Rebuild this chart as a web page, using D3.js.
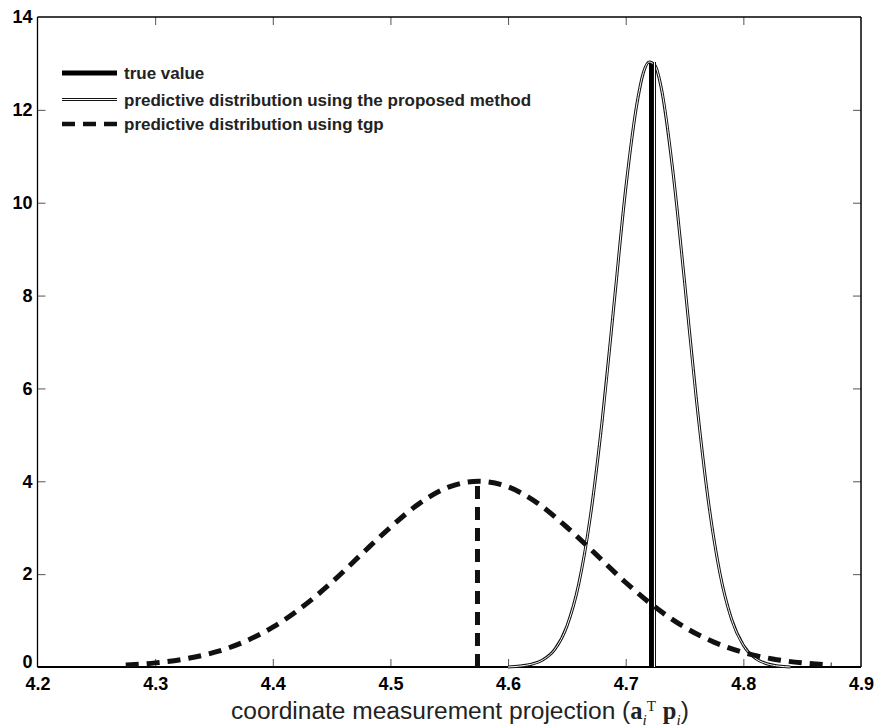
<!DOCTYPE html>
<html>
<head>
<meta charset="utf-8">
<script src="https://cdn.jsdelivr.net/npm/d3@7"></script>
<style>
  html, body { margin: 0; padding: 0; background: #fff; }
  svg { display: block; }
</style>
</head>
<body>
<svg id="chart" width="875" height="728"></svg>
<script>
// ---------- data ----------
const xTicks = [4.2, 4.3, 4.4, 4.5, 4.6, 4.7, 4.8, 4.9];
const yTicks = [0, 2, 4, 6, 8, 10, 12, 14];

const trueValue = 4.7215;
const trueHeight = 13.03;

const proposedMean = 4.7238;
const proposedPeak = 13.03;
const proposedX = [4.600, 4.610, 4.620, 4.630, 4.640, 4.650, 4.660, 4.670, 4.680, 4.690,
                   4.700, 4.710, 4.715, 4.720, 4.725, 4.730, 4.740, 4.750, 4.760, 4.770,
                   4.780, 4.790, 4.800, 4.810, 4.820, 4.830, 4.840];
const proposedY = [0.00, 0.02, 0.06, 0.16, 0.39, 0.88, 1.78, 3.25, 5.31, 7.80,
                   10.30, 12.20, 12.80, 13.03, 12.95, 12.50, 10.70, 8.30, 5.78, 3.62,
                   2.03, 1.03, 0.47, 0.19, 0.07, 0.02, 0.00];

const tgpMean = 4.574;
const tgpPeak = 4.0;
const tgpX = [4.275, 4.300, 4.325, 4.350, 4.375, 4.400, 4.425, 4.450, 4.475, 4.500,
              4.525, 4.550, 4.575, 4.600, 4.625, 4.650, 4.675, 4.700, 4.725, 4.750,
              4.775, 4.800, 4.825, 4.850, 4.875];
const tgpY = [0.043, 0.089, 0.172, 0.313, 0.535, 0.857, 1.29, 1.82, 2.42, 3.01,
              3.53, 3.88, 4.00, 3.88, 3.53, 3.01, 2.42, 1.82, 1.29, 0.857,
              0.535, 0.313, 0.172, 0.089, 0.043];

const legendLabels = ["true value",
                      "predictive distribution using the proposed method",
                      "predictive distribution using tgp"];

// ---------- layout ----------
const svg = d3.select("#chart");
const L = 37.5, R = 861, T = 17, B = 667;
const x = d3.scaleLinear().domain([4.2, 4.9]).range([L, R]);
const y = d3.scaleLinear().domain([0, 14]).range([B, T]);

const tickFont = "'Liberation Sans', Arial, sans-serif";

function styleAxis(g, showLabels) {
  g.select(".domain").remove();
  g.selectAll(".tick line").attr("stroke", "#555").attr("stroke-width", 1);
  g.selectAll(".tick text")
    .attr("fill", "#000")
    .style("font-family", tickFont)
    .style("font-weight", "bold")
    .style("font-size", "18px")
    .style("display", showLabels ? null : "none");
}
const inner = xTicks.slice(1, -1);
const innerY = yTicks.slice(1, -1);

svg.append("g").attr("transform", `translate(0,${B})`)
  .call(d3.axisBottom(x).tickValues(xTicks).tickSize(-8).tickPadding(10).tickFormat(d3.format(".1f")))
  .call(g => styleAxis(g, true))
  .call(g => g.selectAll(".tick line").filter(d => d === 4.2 || d === 4.9).remove());

svg.append("g").attr("transform", `translate(0,${T})`)
  .call(d3.axisTop(x).tickValues(inner).tickSize(-8))
  .call(g => styleAxis(g, false));

svg.append("g").attr("transform", `translate(${L},0)`)
  .call(d3.axisLeft(y).tickValues(yTicks).tickSize(-8).tickPadding(5).tickFormat(d3.format("d")))
  .call(g => styleAxis(g, true))
  .call(g => g.selectAll(".tick line").filter(d => d === 0 || d === 14).remove())
  .call(g => g.selectAll(".tick text").filter(d => d === 0).attr("dy", "0.05em"));

svg.append("g").attr("transform", `translate(${R},0)`)
  .call(d3.axisRight(y).tickValues(innerY).tickSize(-8))
  .call(g => styleAxis(g, false));

// box
svg.append("line").attr("x1", L).attr("x2", R).attr("y1", T).attr("y2", T).attr("stroke", "#000").attr("stroke-width", 1.3);
svg.append("line").attr("x1", L).attr("x2", L).attr("y1", T).attr("y2", B).attr("stroke", "#000").attr("stroke-width", 1.3);
svg.append("line").attr("x1", R).attr("x2", R).attr("y1", T).attr("y2", B).attr("stroke", "#000").attr("stroke-width", 1.5);
svg.append("line").attr("x1", L).attr("x2", R).attr("y1", B).attr("y2", B).attr("stroke", "#000").attr("stroke-width", 2);

// ---------- series ----------
const line = d3.line().x(d => x(d[0])).y(d => y(d[1])).curve(d3.curveMonotoneX);
const propData = proposedX.map((v, i) => [v, proposedY[i]]);
const tgpData = tgpX.map((v, i) => [v, tgpY[i]]);

// true value
svg.append("line")
  .attr("x1", x(trueValue)).attr("x2", x(trueValue))
  .attr("y1", y(0)).attr("y2", y(trueHeight))
  .attr("stroke", "#000").attr("stroke-width", 4);

// proposed (double line)
function doubleLine(sel) {
  sel.append("path").attr("fill", "none").attr("stroke", "#111").attr("stroke-width", 3);
  sel.append("path").attr("fill", "none").attr("stroke", "#fff").attr("stroke-width", 1);
}
const pg = svg.append("g");
pg.call(doubleLine);
pg.selectAll("path").attr("d", line(propData));
const pv = svg.append("g");
pv.call(doubleLine);
const pvx = Math.round(x(proposedMean)) + 0.5;
pv.selectAll("path").attr("d", `M${pvx},${y(0)}V${y(proposedPeak)}`);

// tgp dashed
svg.append("path")
  .attr("d", line(tgpData))
  .attr("fill", "none").attr("stroke", "#111").attr("stroke-width", 5)
  .attr("stroke-dasharray", "13,8");
svg.append("line")
  .attr("x1", x(tgpMean)).attr("x2", x(tgpMean))
  .attr("y1", y(0)).attr("y2", y(tgpPeak))
  .attr("stroke", "#111").attr("stroke-width", 5)
  .attr("stroke-dasharray", "13,8");

// ---------- legend ----------
const legY = [73, 99.5, 124];
const lx1 = 62, lx2 = 117;
svg.append("line").attr("x1", lx1).attr("x2", lx2).attr("y1", legY[0]).attr("y2", legY[0])
  .attr("stroke", "#000").attr("stroke-width", 5);
const lg = svg.append("g");
lg.call(doubleLine);
lg.selectAll("path").attr("d", `M${lx1},${legY[1]}H${lx2}`);
svg.append("line").attr("x1", lx1).attr("x2", lx2).attr("y1", legY[2]).attr("y2", legY[2])
  .attr("stroke", "#111").attr("stroke-width", 4.5).attr("stroke-dasharray", "13,8");

legendLabels.forEach((t, i) => {
  svg.append("text")
    .attr("x", 124).attr("y", legY[i]).attr("dy", "0.36em")
    .style("font-family", tickFont).style("font-weight", "bold").style("font-size", "17px")
    .attr("fill", "#222")
    .text(t);
});

// ---------- x title ----------
const title = svg.append("text")
  .attr("x", 0).attr("y", 0)
  .style("font-family", tickFont).style("font-size", "21px").attr("fill", "#222");
title.append("tspan").text("coordinate measurement projection (");
title.append("tspan").style("font-family", "'Liberation Serif', serif").style("font-weight", "bold").text("a");
title.append("tspan").style("font-family", "'Liberation Serif', serif").style("font-style", "italic").style("font-size", "13px").attr("dy", 5).text("i");
title.append("tspan").style("font-family", "'Liberation Serif', serif").style("font-size", "13px").attr("dy", -12).text("T");
title.append("tspan").attr("dy", 7).text(" ");
title.append("tspan").style("font-family", "'Liberation Serif', serif").style("font-weight", "bold").text("p");
title.append("tspan").style("font-family", "'Liberation Serif', serif").style("font-style", "italic").style("font-size", "13px").attr("dy", 5).text("i");
title.append("tspan").attr("dy", -5).text(")");
const bb = title.node().getBBox();
const targetW = 458, cx = 460;
const s = targetW / bb.width;
title.attr("transform", `translate(${cx - targetW / 2},719) scale(${s})`);
</script>
</body>
</html>
